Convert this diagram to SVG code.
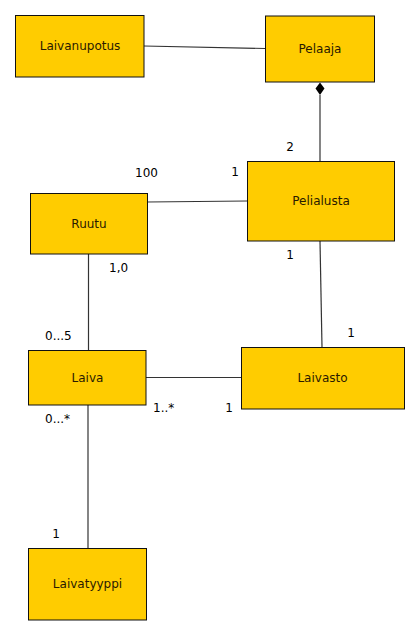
<svg xmlns="http://www.w3.org/2000/svg" width="419" height="635" viewBox="0 0 419 635">
<defs>
<style>
.box{fill:#FFCC00;stroke:#111;stroke-width:1}
.t{font-family:"DejaVu Sans",sans-serif;font-size:12px;fill:#2a1a00;text-anchor:middle}
.l{font-family:"DejaVu Sans",sans-serif;font-size:12px;fill:#000}
.c{stroke:#333;stroke-width:1.2;fill:none}
</style>
</defs>
<rect width="419" height="635" fill="#fff"/>
<g id="connectors">
<line class="c" x1="144" y1="46" x2="265" y2="48.5"/>
<line class="c" x1="320" y1="95" x2="320" y2="161"/>
<path d="M320,82.5 L324.5,88.5 L320,95 L315.5,88.5 Z" fill="#000"/>
<line class="c" x1="147" y1="202" x2="247" y2="201"/>
<line class="c" x1="88.5" y1="254" x2="88.5" y2="350"/>
<line class="c" x1="320" y1="241" x2="322" y2="347"/>
<line class="c" x1="146" y1="377.5" x2="241" y2="377.5"/>
<line class="c" x1="88" y1="405" x2="88" y2="548"/>
</g>
<g id="labels">
<text class="l" x="290" y="151" text-anchor="middle">2</text>
<text class="l" x="235" y="176" text-anchor="middle">1</text>
<text class="l" x="146.5" y="177" text-anchor="middle">100</text>
<text class="l" x="109" y="272">1,0</text>
<text class="l" x="290" y="259" text-anchor="middle">1</text>
<text class="l" x="351" y="337" text-anchor="middle">1</text>
<text class="l" x="45" y="340">0...5</text>
<text class="l" x="153" y="412">1..*</text>
<text class="l" x="229" y="412" text-anchor="middle">1</text>
<text class="l" x="45" y="423">0...*</text>
<text class="l" x="56" y="538" text-anchor="middle">1</text>
</g>
<g id="Laivanupotus"><rect class="box" x="15.5" y="15.5" width="128.5" height="61.5"/><text class="t" x="80" y="50">Laivanupotus</text></g>
<g id="Pelaaja"><rect class="box" x="265.5" y="16" width="109" height="66"/><text class="t" x="320" y="53">Pelaaja</text></g>
<g id="Pelialusta"><rect class="box" x="247.5" y="161.5" width="147" height="79.5"/><text class="t" x="321" y="205">Pelialusta</text></g>
<g id="Ruutu"><rect class="box" x="30.5" y="193.5" width="117" height="60.5"/><text class="t" x="89" y="228">Ruutu</text></g>
<g id="Laiva"><rect class="box" x="28.5" y="350.5" width="117.5" height="54.5"/><text class="t" x="87.5" y="382">Laiva</text></g>
<g id="Laivasto"><rect class="box" x="241.5" y="347.5" width="163" height="61.5"/><text class="t" x="322.5" y="382">Laivasto</text></g>
<g id="Laivatyyppi"><rect class="box" x="28.5" y="548.5" width="118" height="71.5"/><text class="t" x="87.5" y="588">Laivatyyppi</text></g>
</svg>
